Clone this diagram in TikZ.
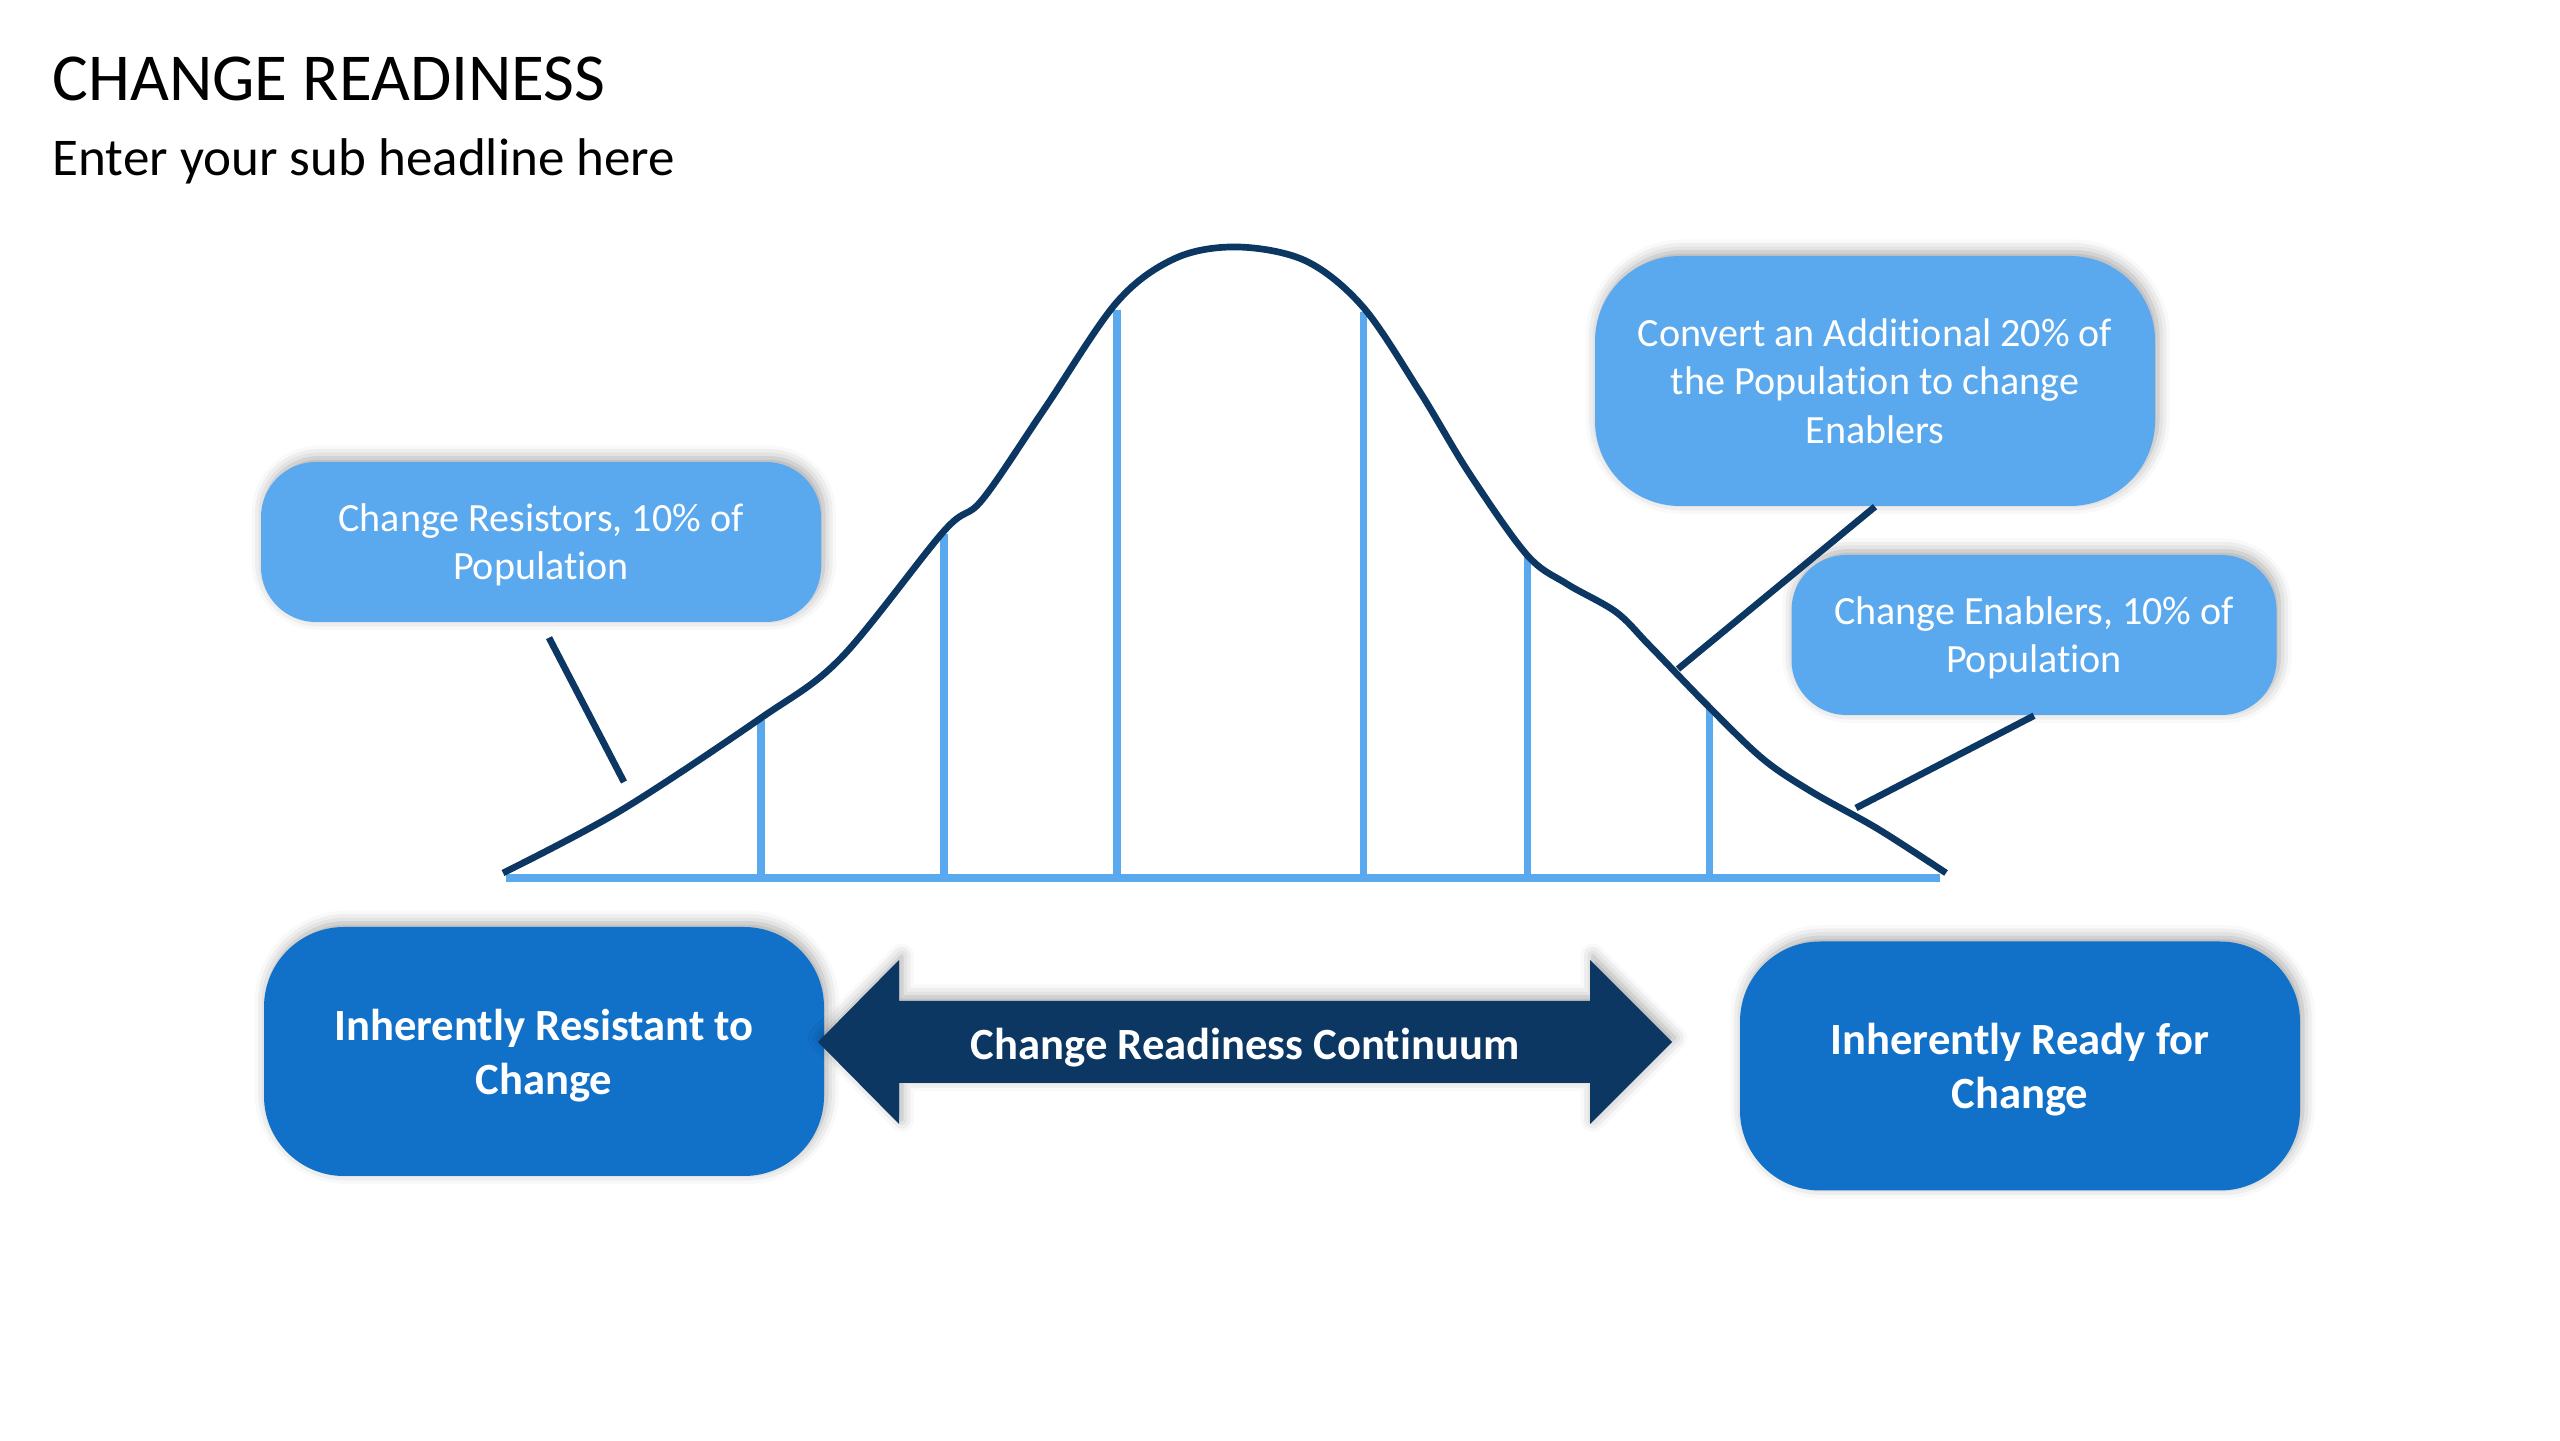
\documentclass[tikz,border=0pt]{standalone}
\usepackage{fontspec}
\setmainfont[Ligatures=NoCommon]{Carlito}
\usetikzlibrary{positioning,calc,shadows.blur}

\definecolor{navy}{RGB}{12,55,99}
\definecolor{skyblue}{RGB}{90,169,238}
\definecolor{royal}{RGB}{17,112,200}

\begin{document}
\begin{tikzpicture}[
    haze/.style={blur shadow={shadow xshift=0.8pt, shadow yshift=1.2pt,
                shadow blur radius=3.5pt, shadow opacity=35}},
    callout/.style={rectangle, fill=skyblue, rounded corners=5.5mm, text=white,
                align=center, minimum height=16mm, text depth=0pt, haze,
                font=\fontsize{11.4}{13.7}\selectfont},
    pole/.style={rectangle, fill=royal, rounded corners=8mm, text=white,
                align=center, minimum width=56mm, minimum height=24.9mm,
                text depth=0pt, haze,
                font=\bfseries\fontsize{12.7}{15.3}\selectfont},
    bell/.style={draw=navy, line width=1.9pt},
    divider/.style={draw=skyblue, line width=2pt},
    floor/.style={draw=skyblue, line width=2.1pt},
    ptr/.style={draw=navy, line width=1.9pt},
]
\useasboundingbox (0,0) rectangle (25.6,14.4);

% --- Heading ---
\node[anchor=base west, inner sep=0pt, font=\fontsize{19.1}{23}\selectfont]
  (title) at (0.52,13.39) {CHANGE READINESS};
\node[anchor=base west, inner sep=0pt, font=\fontsize{15.1}{18}\selectfont]
  (sub) at (0.52,12.64) {Enter your sub headline here};

% --- Bell curve ---
\draw[floor] (5.06,5.62) -- (19.40,5.62);
\draw[divider] (7.61,5.62) -- (7.61,7.20);
\draw[divider] (9.44,5.62) -- (9.44,9.06);
\draw[divider] (11.17,5.62) -- (11.17,11.30);
\draw[divider] (13.63,5.62) -- (13.63,11.28);
\draw[divider] (15.27,5.62) -- (15.27,8.83);
\draw[divider] (17.09,5.62) -- (17.09,7.31);
\draw[bell] plot[smooth, tension=0.55] coordinates {
  (5.03,5.67) (6.20,6.29) (7.61,7.22) (8.41,7.82) (9.44,9.09) (9.82,9.40)
  (10.45,10.32) (11.17,11.38) (11.76,11.82) (12.38,11.93) (13.06,11.79)
  (13.63,11.33) (14.20,10.48) (14.69,9.67) (15.27,8.85) (15.67,8.56)
  (16.16,8.28) (16.49,7.95) (17.09,7.33) (17.63,6.81) (18.12,6.48)
  (18.78,6.11) (19.46,5.67)};

% --- Callouts ---
\node[callout, minimum width=56mm] (resist) at (5.41,8.98)
  {Change Resistors, 10\% of\\Population};
\node[callout, minimum width=56mm, minimum height=25mm, rounded corners=8.5mm]
  (convert) at (18.75,10.59)
  {Convert an Additional 20\% of\\the Population to change\\Enablers};
\node[callout, minimum width=48.5mm] (enable) at (20.34,8.05)
  {Change Enablers, 10\% of\\Population};

\coordinate (resistAt) at (6.24,6.58);
\coordinate (convertAt) at (16.78,7.71);
\coordinate (enableAt) at (18.56,6.32);
\draw[ptr] ([xshift=0.8mm, yshift=-1.5mm]resist.south) -- (resistAt);
\draw[ptr] (convert.south) -- (convertAt);
\draw[ptr] (enable.south) -- (enableAt);

% --- Continuum ---
\node[pole] (resistant) at (5.44,3.885) {Inherently Resistant to\\Change};
\node[pole] (ready) at (20.20,3.74) {Inherently Ready for\\Change};
\fill[navy, haze] (8.18,3.98) -- (8.99,4.80) -- (8.99,4.39) -- (15.90,4.39)
  -- (15.90,4.80) -- (16.72,3.98) -- (15.90,3.16) -- (15.90,3.57)
  -- (8.99,3.57) -- (8.99,3.16) -- cycle;
\node[text=white, text depth=0pt, font=\bfseries\fontsize{12.7}{15.3}\selectfont]
  (continuum) at (12.45,3.96) {Change Readiness Continuum};

\end{tikzpicture}
\end{document}
